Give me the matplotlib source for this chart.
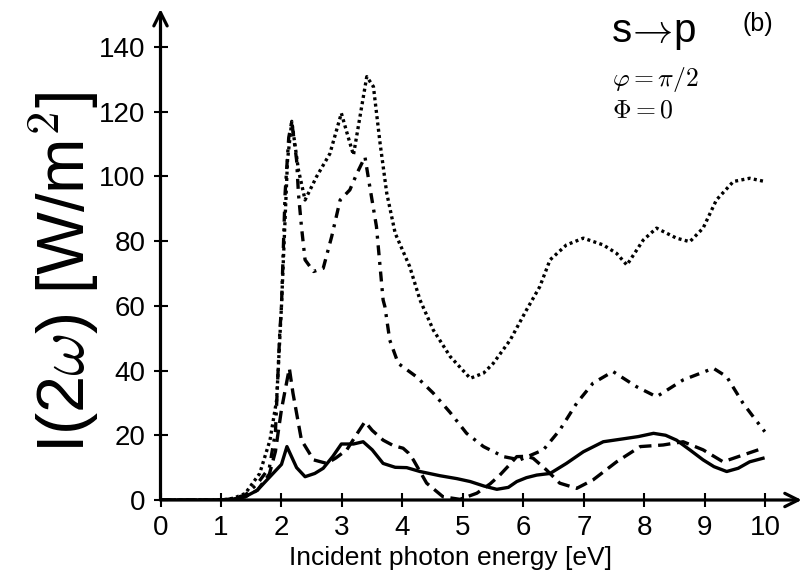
import numpy as np
import matplotlib
matplotlib.use("Agg")
import matplotlib.pyplot as plt

plt.rcParams['font.family'] = ['Liberation Sans', 'DejaVu Sans']
plt.rcParams['mathtext.fontset'] = 'cm'

# solid
x_solid = [0, 1.0, 1.2, 1.4, 1.6, 1.8, 2.0, 2.09, 2.25, 2.39, 2.55, 2.69, 2.85, 2.99, 3.19, 3.35, 3.5,
           3.68, 3.88, 4.07, 4.29, 4.62, 4.9, 5.12, 5.35, 5.56, 5.75, 5.89, 6.05, 6.22, 6.44, 6.71, 6.99,
           7.32, 7.65, 7.9, 8.15, 8.35, 8.53, 8.75, 8.97, 9.15, 9.36, 9.55, 9.74, 9.96]
y_solid = [0, 0, 0.3, 1, 3, 7, 11, 16.5, 10, 7.2, 8.2, 9.8, 13.5, 17.3, 17.3, 18.0, 15.5,
           11.3, 10.1, 10.0, 8.8, 7.5, 6.6, 5.7, 4.3, 3.3, 3.9, 5.7, 6.9, 7.7, 8.2, 11.3, 14.9,
           18.0, 18.9, 19.6, 20.6, 20.0, 18.5, 15.5, 12.4, 10.3, 8.8, 9.8, 11.8, 12.9]

# dashed
x_dash = [0, 1.0, 1.2, 1.4, 1.6, 1.8, 1.9, 2.0, 2.13, 2.19, 2.33, 2.53, 2.75, 2.9, 3.08, 3.25, 3.38,
          3.5, 3.68, 3.85, 4.01, 4.1, 4.18, 4.4, 4.67, 4.95, 5.23, 5.45, 5.61, 5.75, 5.89, 6.05, 6.16,
          6.38, 6.6, 6.88, 7.15, 7.54, 7.93, 8.31, 8.64, 8.97, 9.3, 9.63, 9.96]
y_dash = [0, 0, 0.3, 1, 3, 8, 15, 28, 40.7, 33, 18.5, 12.4, 11.3, 13, 15.5, 20.5, 24.2,
          21.5, 18.5, 16.8, 16, 14.5, 12.4, 5.2, 1, 0.2, 2.1, 5, 7.7, 10.5, 13.4, 13.5, 12.9,
          9.3, 5.2, 3.6, 6.2, 11.8, 16.5, 17.0, 18.0, 15.5, 11.8, 13.9, 16.0]

# dash-dot
x_dd = [0, 1.0, 1.2, 1.4, 1.6, 1.8, 1.9, 1.97, 2.0, 2.06, 2.12, 2.17, 2.25, 2.28, 2.33, 2.39, 2.53,
        2.69, 2.83, 2.97, 3.13, 3.25, 3.38, 3.46, 3.57, 3.68, 3.71, 3.79, 3.93, 4.23, 4.51, 4.79,
        5.06, 5.34, 5.67, 5.94, 6.33, 6.6, 6.88, 7.15, 7.48, 7.87, 8.2, 8.64, 9.14, 9.36, 9.63,
        9.8, 9.99]
y_dd = [0, 0, 0.5, 1.5, 5, 10, 21, 51, 60, 94.8, 112, 116.9, 105, 94.8, 84.5, 74.2, 70.6,
        71.6, 81.4, 92.7, 95.8, 101, 106, 96.8, 84.5, 61.8, 59.7, 49.4, 42.2, 38.1, 33.0, 27,
        20.6, 16.5, 13.4, 12.4, 15.5, 21.6, 29.9, 36.1, 39.7, 35.0, 31.9, 37.1, 40.7, 38.1, 29.9,
        25.7, 21.1]

# dotted
x_dot = [0, 1.0, 1.2, 1.4, 1.64, 1.81, 1.92, 2.0, 2.1, 2.17, 2.28, 2.39, 2.58, 2.8, 2.99, 3.1,
         3.19, 3.27, 3.41, 3.52, 3.63, 3.74, 3.88, 4.12, 4.29, 4.51, 4.79, 5.12, 5.34, 5.5, 5.78,
         6.05, 6.27, 6.44, 6.71, 6.99, 7.32, 7.54, 7.71, 7.98, 8.2, 8.53, 8.75, 8.97, 9.19, 9.47,
         9.74, 9.99]
y_dot = [0, 0, 0.5, 2, 8.2, 18.5, 30.9, 60, 105, 117, 102, 92.7, 99.9, 107, 119.5, 112.3,
         106.6, 115.4, 130.8, 127.7, 110.2, 94.8, 82.4, 72.1, 61.8, 52.5, 44.3, 37.6, 39.2, 42.2, 49.4,
         58.7, 65.9, 74.2, 78.8, 80.9, 78.8, 76.2, 72.6, 80.3, 84.0, 80.9, 79.8, 84.0, 92.7, 98.4,
         99.4, 98.4]

x_ticks = list(range(0, 11))
y_ticks = list(range(0, 141, 20))

fig = plt.figure(figsize=(8.07, 5.76), dpi=100)
ax = fig.add_axes([160.5 / 807, 76 / 576, 641.2 / 807, 491 / 576])

lw = 2.4
ax.plot(x_solid, y_solid, color='black', lw=lw)
ax.plot(x_dash, y_dash, color='black', lw=lw, dashes=(3.7, 2.0))
ax.plot(x_dd, y_dd, color='black', lw=lw, dashes=(3.0, 2.0, 0.9, 2.0))
ax.plot(x_dot, y_dot, color='black', lw=lw, dashes=(0.9, 1.0))

ax.set_xlim(0, 10.6)
ax.set_ylim(0, 151.7)
ax.set_xticks(x_ticks)
ax.set_yticks(y_ticks)
for s in ax.spines.values():
    s.set_visible(False)
ax.tick_params(direction='inout', length=10.5, width=1.5, labelsize=20, pad=5.5)

# axes drawn as arrows
for end in [(1, 0), (0, 1)]:
    ax.annotate('', xy=end, xytext=(0, 0), xycoords='axes fraction',
                arrowprops=dict(arrowstyle='->', lw=2.3, color='black', shrinkA=0, shrinkB=0,
                                mutation_scale=24))

ax.set_xlabel('Incident photon energy [eV]', fontsize=19)
ax.xaxis.label.set_va('baseline')
ax.xaxis.set_label_coords(0.452, -0.1324)
ax.set_ylabel(r'I(2$\omega$) [W/m$^2$]', fontsize=48)
ax.yaxis.label.set_va('baseline')
ax.yaxis.set_label_coords(-0.118, 0.463)

fig.text(611 / 807, 1 - 42 / 576, r's$\!\rightarrow\!$p', fontsize=29, ha='left', va='baseline')
fig.text(742 / 807, 1 - 31 / 576, '(b)', fontsize=18, ha='left', va='baseline')
fig.text(612 / 807, 1 - 80 / 576, r'$\varphi = \pi/2$', fontsize=18.5, ha='left', va='center')
fig.text(612 / 807, 1 - 110 / 576, r'$\Phi = 0$', fontsize=18.5, ha='left', va='center')

fig.savefig('out.png', dpi=100)
